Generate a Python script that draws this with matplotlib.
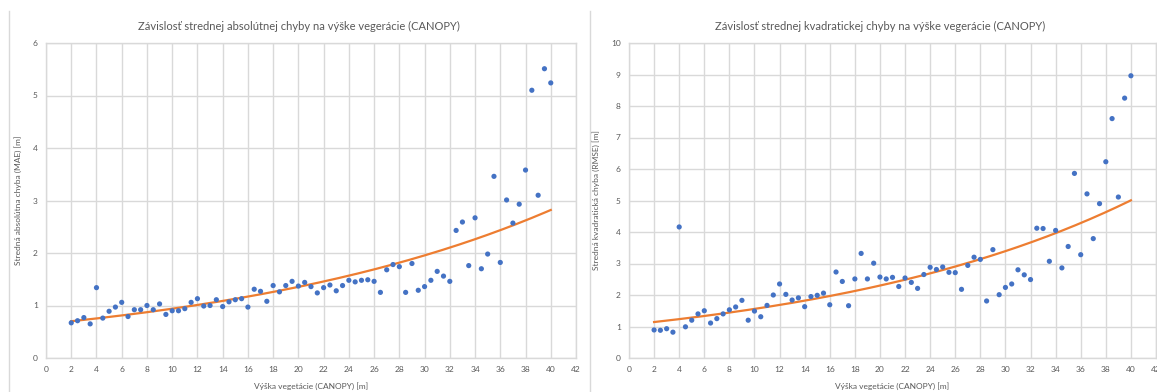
import numpy as np
import matplotlib
matplotlib.use('Agg')
import matplotlib.pyplot as plt
from matplotlib.lines import Line2D

# --- Data ---
canopy = np.arange(2, 40.5, 0.5)  # 2.0 .. 40.0 step 0.5

mae = [0.67, 0.71, 0.77, 0.65, 1.34, 0.76, 0.89, 0.97, 1.06, 0.79,
       0.92, 0.92, 1.00, 0.92, 1.03, 0.83, 0.90, 0.90, 0.94, 1.06,
       1.13, 0.99, 1.00, 1.11, 0.98, 1.07, 1.11, 1.13, 0.97, 1.31,
       1.27, 1.08, 1.38, 1.26, 1.38, 1.46, 1.37, 1.44, 1.36, 1.24,
       1.34, 1.39, 1.28, 1.38, 1.48, 1.45, 1.48, 1.49, 1.46, 1.25,
       1.68, 1.78, 1.74, 1.25, 1.80, 1.29, 1.36, 1.48, 1.65, 1.56,
       1.46, 2.43, 2.59, 1.76, 2.67, 1.70, 1.98, 3.46, 1.82, 3.01,
       2.57, 2.93, 3.58, 5.10, 3.10, 5.51, 5.24]

rmse = [0.89, 0.88, 0.93, 0.82, 4.16, 0.99, 1.20, 1.40, 1.50, 1.11,
        1.25, 1.40, 1.53, 1.62, 1.83, 1.20, 1.49, 1.31, 1.67, 2.00,
        2.35, 2.02, 1.84, 1.91, 1.63, 1.95, 1.99, 2.06, 1.69, 2.73,
        2.43, 1.66, 2.51, 3.32, 2.51, 3.01, 2.57, 2.51, 2.56, 2.27,
        2.54, 2.40, 2.21, 2.65, 2.88, 2.81, 2.89, 2.72, 2.71, 2.18,
        2.94, 3.20, 3.13, 1.81, 3.44, 2.01, 2.24, 2.35, 2.80, 2.64,
        2.49, 4.12, 4.11, 3.07, 4.05, 2.86, 3.54, 5.86, 3.28, 5.21,
        3.79, 4.90, 6.23, 7.60, 5.11, 8.25, 8.96]

titles = ['Závislosť strednej absolútnej chyby na výške vegerácie (CANOPY)',
          'Závislosť strednej kvadratickej chyby na výške vegerácie (CANOPY)']
ylabels = ['Stredná absolútna chyba (MAE) [m]',
           'Stredná kvadratická chyba (RMSE) [m]']
xlabel = 'Výška vegetácie (CANOPY) [m]'

# --- Style ---
plt.rcParams['font.family'] = ['Lato', 'DejaVu Sans']
BLUE = '#4472C4'
ORANGE = '#ED7D31'
GRID = '#D9D9D9'
TXT = '#595959'

W, H = 1157, 392
fig = plt.figure(figsize=(W / 100, H / 100), dpi=100)

# plot-area positions in pixels: (left, right, top, bottom)
boxes = [(46, 576, 43, 358), (629, 1156, 43, 358)]
chart_left = [9, 590]
ymax = [6, 10]
series = [mae, rmse]

for i in range(2):
    l, r, t, b = boxes[i]
    ax = fig.add_axes([l / W, 1 - b / H, (r - l) / W, (b - t) / H])
    y = np.array(series[i])

    # exponential trendline (least squares on log y, like Excel)
    k, c = np.polyfit(canopy, np.log(y), 1)
    xt = np.linspace(canopy[0], canopy[-1], 200)
    ax.plot(xt, np.exp(c) * np.exp(k * xt), color=ORANGE, lw=1.6, zorder=2)
    ax.scatter(canopy, y, s=14, color=BLUE, edgecolors='none', zorder=3)

    ax.set_xlim(0, 42)
    ax.set_ylim(0, ymax[i])
    ax.set_xticks(range(0, 43, 2))
    ax.set_yticks(range(0, ymax[i] + 1))
    ax.grid(True, color=GRID, lw=1.0, zorder=0)
    ax.set_axisbelow(True)
    for s in ax.spines.values():
        s.set_color(GRID)
        s.set_linewidth(1.0)
    ax.tick_params(length=0, labelsize=6, colors=TXT, pad=6)

    ax.set_ylabel(ylabels[i], fontsize=6, color=TXT, labelpad=8)
    ax.set_xlabel(xlabel, fontsize=6, color=TXT, labelpad=6)

    # chart title centred on the chart area
    cx = (chart_left[i] + chart_left[i] + 580) / 2
    fig.text(cx / W, 1 - 26 / H, titles[i], ha='center', va='center',
             fontsize=8, color=TXT)

    # chart area border (left edge only visible)
    fig.add_artist(Line2D([chart_left[i] / W] * 2, [0, 1 - 11 / H],
                          transform=fig.transFigure, color=GRID, lw=1.0))

fig.savefig('out.png', dpi=100)
